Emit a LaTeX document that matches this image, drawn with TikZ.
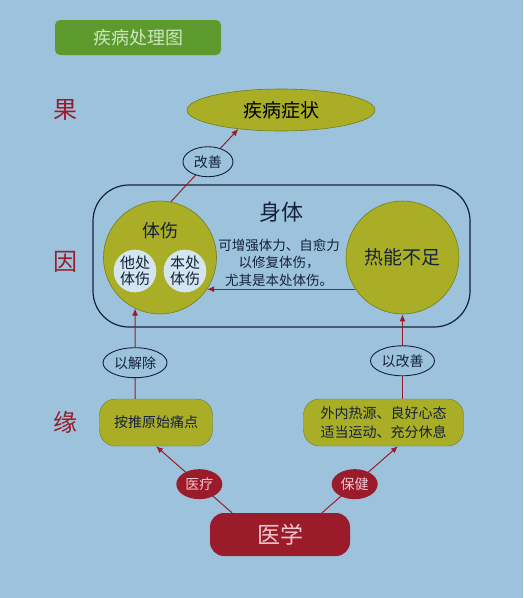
\documentclass[tikz,border=0pt]{standalone}
\usepackage{fontspec}
\setmainfont{Noto Sans CJK SC}
\usetikzlibrary{arrows.meta, positioning, shapes.geometric}
\definecolor{bg}{HTML}{9DC3DC}
\definecolor{olive}{HTML}{A9AE26}
\definecolor{oliveline}{HTML}{737C1E}
\definecolor{maroon}{HTML}{9A1B2A}
\definecolor{navy}{HTML}{14213D}
\definecolor{titlegreen}{HTML}{5C9A2E}
\definecolor{titletext}{HTML}{CFE5C0}
\definecolor{pale}{HTML}{D3E5EE}
\definecolor{pinktext}{HTML}{F2C6CE}

\begin{document}
\begin{tikzpicture}[
      x=1pt, y=-1pt, >=Latex,
      fz/.style={font=\fontsize{#1}{#1}\selectfont},
      oval/.style={ellipse, draw=oliveline, fill=olive, inner sep=0pt,
                   line width=0.6pt},
      bigcirc/.style={circle, draw=oliveline, fill=olive, minimum size=113pt,
                      inner sep=0pt, line width=0.6pt},
      smallcirc/.style={circle, fill=pale, minimum size=42pt, inner sep=0pt,
                        align=center, font=\fontsize{15}{16.5}\selectfont,
                        text=navy},
      lbl/.style={ellipse, draw=navy, fill=bg, line width=0.9pt, inner sep=0pt,
                  minimum height=30pt, fz=14, text=navy},
      redlbl/.style={ellipse, fill=maroon, inner sep=0pt, minimum width=46pt,
                     minimum height=30pt, fz=14, text=pinktext},
      cause/.style={rounded corners=16pt, draw=oliveline, fill=olive,
                    minimum height=47pt, inner sep=0pt, align=center,
                    fz=14, text=navy},
      side/.style={fz=24, text=maroon},
      arr/.style={->, draw=maroon, line width=1pt,
                  arrows={-Latex[length=7pt, width=6pt]}},
    ]
    \useasboundingbox (0,0) rectangle (523,598);
    \fill[bg] (0,0) rectangle (523,598);

    % title
    \node[rounded corners=5pt, fill=titlegreen, minimum width=166pt,
          minimum height=35pt, fz=18, text=titletext] (title) at (138,37.5) {疾病处理图};

    % left column
    \node[side] (guo)  at (65,110) {果};
    \node[side] (yin)  at (65,262) {因};
    \node[side] (yuan) at (65,422) {缘};

    % result
    \node[oval, minimum width=188pt, minimum height=42pt, fz=19] (zhengzhuang)
          at (281,110) {疾病症状};

    % body
    \node[draw=navy, line width=1.2pt, rounded corners=36pt, minimum width=377pt,
          minimum height=142pt] (shenti) at (281.5,256) {};
    \node[fz=22, text=navy] (shentilbl) at (281,212) {身体};

    \node[bigcirc] (tishang) at (160,257.5) {};
    \node[fz=18, text=navy] (tishanglbl) at (160,231) {体伤};
    \node[smallcirc] (tachu)  at (135,271) {他处\\体伤};
    \node[smallcirc] (benchu) at (185,271) {本处\\体伤};

    \node[bigcirc, fz=19, text=navy] (rene) at (402.5,257.5) {热能不足};

    \node[align=center, text=navy, font=\fontsize{13.5}{17.5}\selectfont] (xiufu)
          at (279,262.5) {可增强体力、自愈力\\以修复体伤，\\尤其是本处体伤。};

    % conditions
    \node[cause, minimum width=113pt] (anmo)  at (156,422.5) {按推原始痛点};
    \node[cause, minimum width=160pt, font=\fontsize{14}{19}\selectfont] (waire)
          at (383.5,422.5) {外内热源、良好心态\\适当运动、充分休息};

    \node[rounded corners=14pt, fill=maroon, minimum width=140pt,
          minimum height=43pt, fz=23, text=pinktext] (yixue) at (280,534.5) {医学};

    % connectors
    \draw[arr] (tishang.79) -- (zhengzhuang.204)
          node[lbl, pos=0.55, minimum width=50pt] (gaishan) {改善};
    \draw[arr] (rene.214) -- (tishang.326);
    \draw[arr] ([xshift=-21pt]anmo.north) -- (tishang.244)
          node[lbl, pos=0.4, minimum width=64pt] (jiechu) {以解除};
    \draw[arr] ([xshift=19pt]waire.north) -- (rene.south)
          node[lbl, pos=0.45, minimum width=64pt] (gaishan2) {以改善};
    \draw[arr] ([xshift=-48pt]yixue.north) -- (anmo.south)
          node[redlbl, pos=0.43] (yiliao) {医疗};
    \draw[arr] ([xshift=42pt]yixue.north) -- ([xshift=14.5pt]waire.south)
          node[redlbl, pos=0.43] (baojian) {保健};
  \end{tikzpicture}
\end{document}
